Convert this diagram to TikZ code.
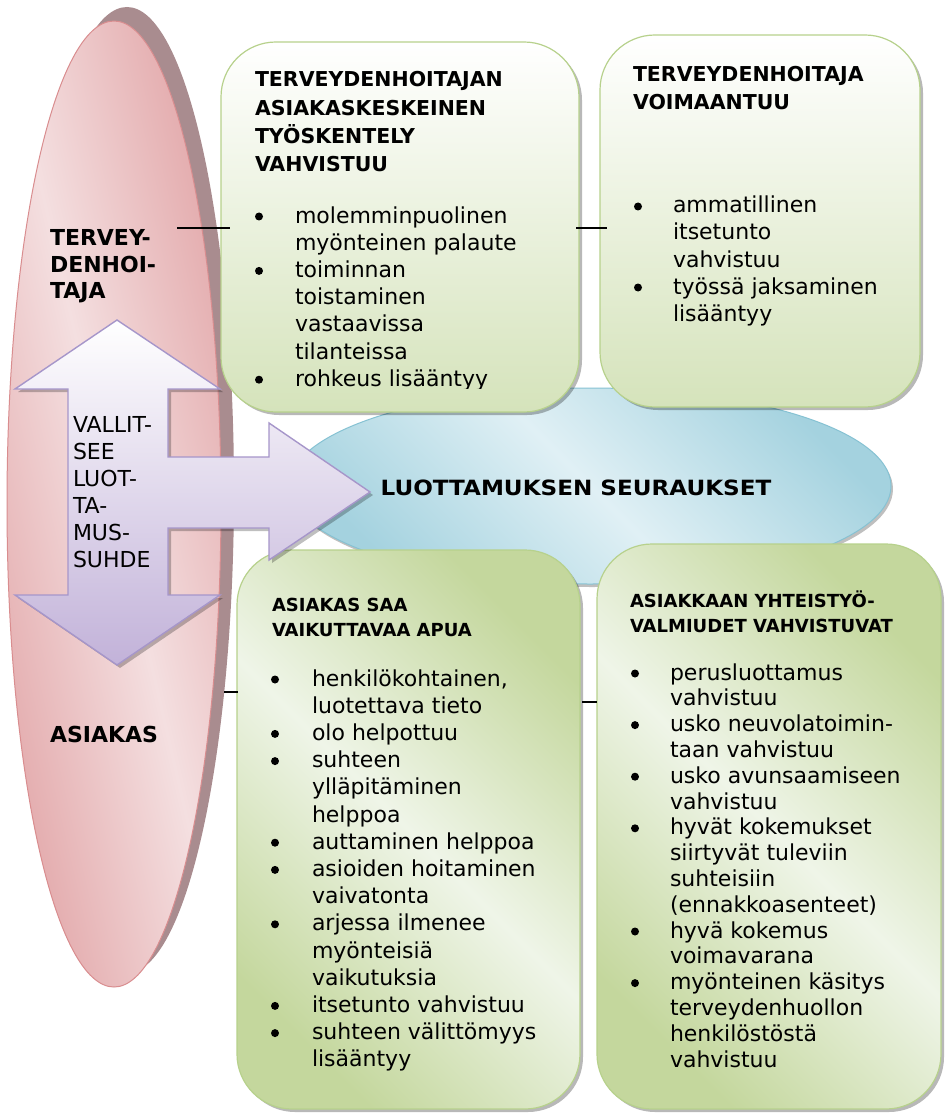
\documentclass[tikz,border=0pt]{standalone}
\usepackage{fontspec}
\setmainfont{DejaVu Sans}
\newfontfamily\ctrfont{DejaVu Sans}[FakeStretch=1.1]
\usetikzlibrary{shapes.geometric,shadows}
\definecolor{pinkdark}{HTML}{E2A6A8}
\definecolor{pinklight}{HTML}{F4DFE0}
\definecolor{pinkline}{HTML}{D98D8F}
\definecolor{pinkshadow}{HTML}{A98C8F}
\definecolor{greenline}{HTML}{B7D18C}
\definecolor{greendark}{HTML}{C4D79D}
\definecolor{greenlight}{HTML}{EFF5E8}
\definecolor{greenbot}{HTML}{D5E3BB}
\definecolor{bluedark}{HTML}{A4D2DF}
\definecolor{bluelight}{HTML}{E0F0F5}
\definecolor{blueline}{HTML}{86C2D3}
\definecolor{lavline}{HTML}{A696CA}
\definecolor{lavbot}{HTML}{C2B2D9}
\begin{document}
\begin{tikzpicture}[x=1pt,y=-1pt,
  every node/.style={inner sep=0pt, outer sep=0pt},
  boxshadow/.style={drop shadow={shadow xshift=3pt, shadow yshift=-3pt, fill=black, opacity=0.28}},
  gboxtop/.style={rectangle, rounded corners=55pt, draw=greenline, line width=1.2pt,
     top color=white, bottom color=greenbot, boxshadow},
  gboxdiag/.style={rectangle, rounded corners=55pt, draw=greenline, line width=1.2pt,
     left color=greendark, right color=greendark, middle color=greenlight, shading angle=135, boxshadow},
  hdA/.style={anchor=base west, font=\bfseries\fontsize{20.5}{24}\selectfont},
  hdB/.style={anchor=base west, font=\bfseries\fontsize{18}{22}\selectfont},
  body/.style={anchor=base west, font=\fontsize{22}{26}\selectfont},
  sidelabel/.style={anchor=base west, font=\bfseries\fontsize{22}{26}\selectfont},
  arrowtxt/.style={anchor=base west, font=\fontsize{22}{26}\selectfont},
  conn/.style={draw=black, line width=1.2pt},
  bul/.style={fill=black}
]
\useasboundingbox (0,0) rectangle (944,1115);
\fill[white] (0,0) rectangle (944,1115);

% pink ellipse with offset shadow
\node[ellipse, minimum width=214pt, minimum height=966pt, fill=pinkshadow] (pinksh) at (127,490) {};
\node[ellipse, minimum width=214pt, minimum height=966pt, draw=pinkline, line width=1pt,
  left color=pinkdark, right color=pinkdark, middle color=pinklight, shading angle=103] (pink) at (114,504) {};

% blue ellipse
\node[ellipse, minimum width=602pt, minimum height=196pt, draw=blueline, line width=1pt,
  left color=bluedark, right color=bluedark, middle color=bluelight, shading angle=135,
  drop shadow={shadow xshift=2pt, shadow yshift=-3pt, fill=black, opacity=0.25}] (blue) at (590,486) {};

% green boxes
\node[gboxtop, minimum width=358pt, minimum height=370pt] (b1) at (400,227) {};
\node[gboxtop, minimum width=320pt, minimum height=372pt] (b2) at (760,221) {};
\node[gboxdiag, minimum width=343pt, minimum height=559pt] (b3) at (408.5,829.5) {};
\node[gboxdiag, minimum width=344pt, minimum height=565pt] (b4) at (769,826.5) {};

% double arrow with right branch (shadow first)
\begin{scope}[shift={(3,3)}]
\fill[black, opacity=0.25] (117,320) -- (220,389) -- (168,389) -- (168,457) -- (269,457) -- (269,423)
  -- (370,492) -- (269,560) -- (269,528) -- (168,528) -- (168,595) -- (220,595) -- (117,665)
  -- (15,595) -- (68,595) -- (68,389) -- (15,389) -- cycle;
\end{scope}
\path[draw=lavline, line width=1.4pt, line join=miter, top color=white, bottom color=lavbot]
  (117,320) -- (220,389) -- (168,389) -- (168,457) -- (269,457) -- (269,423)
  -- (370,492) -- (269,560) -- (269,528) -- (168,528) -- (168,595) -- (220,595) -- (117,665)
  -- (15,595) -- (68,595) -- (68,389) -- (15,389) -- cycle;

% connectors
\coordinate (c1a) at (177,228); \coordinate (c1b) at (230,228);
\coordinate (c2a) at (576,228); \coordinate (c2b) at (607,228);
\coordinate (c3a) at (224,692); \coordinate (c3b) at (238,692);
\coordinate (c4a) at (582,702); \coordinate (c4b) at (597,702);
\draw[conn] (c1a) -- (c1b);
\draw[conn] (c2a) -- (c2b);
\draw[conn] (c3a) -- (c3b);
\draw[conn] (c4a) -- (c4b);

% pink ellipse labels
\node[sidelabel] (tl1) at (50,245) {TERVEY-};
\node[sidelabel] (tl2) at (50,272) {DENHOI-};
\node[sidelabel] (tl3) at (50,298) {TAJA};
\node[sidelabel] (asl) at (50,742) {ASIAKAS};

% arrow text
\foreach \t [count=\i from 0] in {VALLIT-, SEE, LUOT-, TA-, MUS-, SUHDE}
  \node[arrowtxt] (av\i) at (73,{432+27*\i}) {\t};

% centre text
\node[anchor=base, font=\ctrfont\bfseries\fontsize{21}{25}\selectfont] (ctr) at (576,495) {LUOTTAMUKSEN SEURAUKSET};

% box 1
\foreach \t [count=\i from 0] in {TERVEYDENHOITAJAN, ASIAKASKESKEINEN, TYÖSKENTELY, VAHVISTUU}
  \node[hdA] (h1\i) at (255,{87+28.3*\i}) {\t};
\begin{scope}
\clip (221,0) rectangle (579,388.5);
\foreach \t/\b [count=\i from 0] in {molemminpuolinen/1, myönteinen palaute/0, toiminnan/1,
    toistaminen/0, vastaavissa/0, tilanteissa/0, rohkeus lisääntyy/1} {
  \node[body] (t1\i) at (295,{223+27.2*\i}) {\t};
  \ifnum\b=1 \fill[bul] (259,{223+27.2*\i-6.5}) circle[radius=4pt]; \fi
}
\end{scope}

% box 2
\node[hdA] (h20) at (633,82) {TERVEYDENHOITAJA};
\node[hdA] (h21) at (633,110) {VOIMAANTUU};
\foreach \t/\b [count=\i from 0] in {ammatillinen/1, itsetunto/0, vahvistuu/0,
    työssä jaksaminen/1, lisääntyy/0} {
  \node[body] (t2\i) at (673,{213+27*\i}) {\t};
  \ifnum\b=1 \fill[bul] (638,{213+27*\i-6.5}) circle[radius=4pt]; \fi
}

% box 3
\node[hdB] (h30) at (272,611) {ASIAKAS SAA};
\node[hdB] (h31) at (272,636) {VAIKUTTAVAA APUA};
\foreach \t/\b [count=\i from 0] in {{henkilökohtainen,}/1, luotettava tieto/0, olo helpottuu/1,
    suhteen/1, ylläpitäminen/0, helppoa/0, auttaminen helppoa/1, asioiden hoitaminen/1,
    vaivatonta/0, arjessa ilmenee/1, myönteisiä/0, vaikutuksia/0, itsetunto vahvistuu/1,
    suhteen välittömyys/1, lisääntyy/0} {
  \node[body] (t3\i) at (312,{686+27.2*\i}) {\t};
  \ifnum\b=1 \fill[bul] (275,{686+27.2*\i-6.5}) circle[radius=4pt]; \fi
}

% box 4
\node[hdB] (h40) at (630,607) {ASIAKKAAN YHTEISTYÖ-};
\node[hdB] (h41) at (630,632) {VALMIUDET VAHVISTUVAT};
\foreach \t/\b [count=\i from 0] in {perusluottamus/1, vahvistuu/0, usko neuvolatoimin-/1,
    taan vahvistuu/0, usko avunsaamiseen/1, vahvistuu/0, hyvät kokemukset/1,
    siirtyvät tuleviin/0, suhteisiin/0, (ennakkoasenteet)/0, hyvä kokemus/1,
    voimavarana/0, myönteinen käsitys/1, terveydenhuollon/0, henkilöstöstä/0, vahvistuu/0} {
  \node[body] (t4\i) at (670,{680+25.8*\i}) {\t};
  \ifnum\b=1 \fill[bul] (635,{680+25.8*\i-6.5}) circle[radius=4pt]; \fi
}
\end{tikzpicture}
\end{document}
